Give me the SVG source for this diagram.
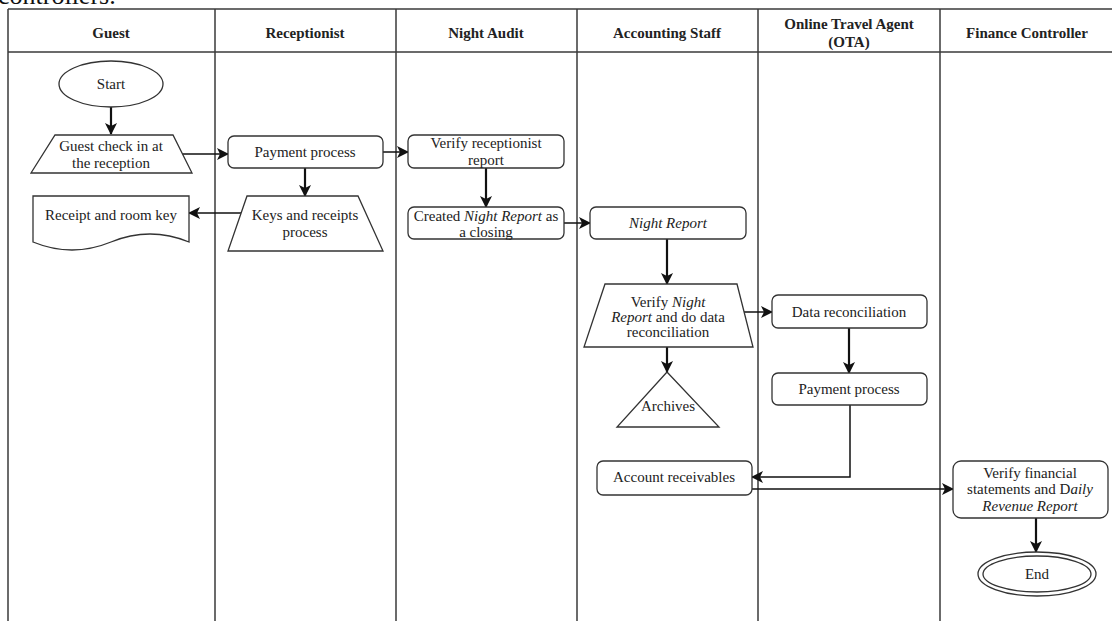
<svg xmlns="http://www.w3.org/2000/svg" width="1112" height="621" viewBox="0 0 1112 621">
<style>
text{font-family:"Liberation Serif","Times New Roman",serif;font-size:15px;fill:#222;text-anchor:middle}
.h{font-weight:bold}
.i{font-style:italic}
.lane{stroke:#3a3a3a;stroke-width:1.5;fill:none}
.n{fill:#fff;stroke:#333;stroke-width:1.3}
.c{stroke:#111;fill:none}
.t{stroke-width:1.5}
.k{stroke-width:2.2}
</style>
<defs>
<marker id="a" markerUnits="userSpaceOnUse" markerWidth="12" markerHeight="12" viewBox="0 0 12 12" refX="11" refY="6" orient="auto">
<path d="M0,0 L12,6 L0,12 L3,6 Z" fill="#111"/>
</marker>
</defs>
<rect width="1112" height="621" fill="#fff"/>
<text x="-2" y="4" style="font-size:26px;text-anchor:start;fill:#111">controllers.</text>
<g id="lanes">
<line class="lane" x1="8" y1="9" x2="1112" y2="9"/>
<line class="lane" x1="8" y1="52" x2="1112" y2="52"/>
<line class="lane" x1="8" y1="9" x2="8" y2="621"/>
<line class="lane" x1="215" y1="9" x2="215" y2="621"/>
<line class="lane" x1="396" y1="9" x2="396" y2="621"/>
<line class="lane" x1="577" y1="9" x2="577" y2="621"/>
<line class="lane" x1="758" y1="9" x2="758" y2="621"/>
<line class="lane" x1="940" y1="9" x2="940" y2="621"/>
<text class="h" x="111" y="38">Guest</text>
<text class="h" x="305" y="38">Receptionist</text>
<text class="h" x="486" y="38">Night Audit</text>
<text class="h" x="667" y="38">Accounting Staff</text>
<text class="h" x="849" y="29">Online Travel Agent</text>
<text class="h" x="849" y="47">(OTA)</text>
<text class="h" x="1027" y="38">Finance Controller</text>
</g>
<g id="connectors">
<line class="c k" x1="111" y1="106" x2="111" y2="134" marker-end="url(#a)"/>
<line class="c t" x1="182" y1="154" x2="228" y2="154" marker-end="url(#a)"/>
<line class="c k" x1="305" y1="168" x2="305" y2="196" marker-end="url(#a)"/>
<line class="c t" x1="247" y1="213" x2="189" y2="213" marker-end="url(#a)"/>
<line class="c t" x1="383" y1="152" x2="408" y2="152" marker-end="url(#a)"/>
<line class="c k" x1="486" y1="168" x2="486" y2="207" marker-end="url(#a)"/>
<line class="c t" x1="564" y1="223" x2="590" y2="223" marker-end="url(#a)"/>
<line class="c k" x1="667" y1="239" x2="667" y2="284" marker-end="url(#a)"/>
<line class="c t" x1="740" y1="312" x2="772" y2="312" marker-end="url(#a)"/>
<line class="c k" x1="667" y1="347" x2="667" y2="372" marker-end="url(#a)"/>
<line class="c k" x1="849" y1="328" x2="849" y2="373" marker-end="url(#a)"/>
<polyline class="c t" points="850,405 850,477 752,477" marker-end="url(#a)"/>
<line class="c t" x1="752" y1="489" x2="953" y2="489" marker-end="url(#a)"/>
<line class="c k" x1="1036" y1="518" x2="1036" y2="552" marker-end="url(#a)"/>
</g>
<g id="start">
<ellipse class="n" cx="111" cy="84" rx="52" ry="23"/>
<text x="111" y="89">Start</text>
</g>
<g id="guest-checkin">
<polygon class="n" points="55,135 173,135 192,173 31,173"/>
<text x="111" y="151">Guest check in at</text>
<text x="111" y="168">the reception</text>
</g>
<g id="receipt">
<path class="n" d="M33,196 H189 V242 Q150,226 111,242 Q72,258 33,242 Z"/>
<text x="111" y="220">Receipt and room key</text>
</g>
<g id="payment1">
<rect class="n" x="228" y="136" width="155" height="32" rx="6"/>
<text x="305" y="157">Payment process</text>
</g>
<g id="keys">
<polygon class="n" points="247,196 358,196 383,251 228,251"/>
<text x="305" y="220">Keys and receipts</text>
<text x="305" y="237">process</text>
</g>
<g id="verify-recep">
<rect class="n" x="408" y="135" width="156" height="33" rx="6"/>
<text x="486" y="148">Verify receptionist</text>
<text x="486" y="165">report</text>
</g>
<g id="created-night">
<rect class="n" x="408" y="207" width="156" height="32" rx="6"/>
<text x="486" y="221">Created <tspan class="i">Night Report</tspan> as</text>
<text x="486" y="237">a closing</text>
</g>
<g id="night-report">
<rect class="n" x="590" y="207" width="156" height="32" rx="6"/>
<text class="i" x="668" y="228">Night Report</text>
</g>
<g id="verify-night">
<polygon class="n" points="605,284 737,284 753,347 584,347"/>
<text x="668" y="307">Verify <tspan class="i">Night</tspan></text>
<text x="668" y="322"><tspan class="i">Report</tspan> and do data</text>
<text x="668" y="337">reconciliation</text>
</g>
<g id="archives">
<polygon class="n" points="667,372 719,427 617,427"/>
<text x="668" y="411">Archives</text>
</g>
<g id="data-recon">
<rect class="n" x="772" y="295" width="155" height="33" rx="6"/>
<text x="849" y="317">Data reconciliation</text>
</g>
<g id="payment2">
<rect class="n" x="772" y="373" width="155" height="32" rx="6"/>
<text x="849" y="394">Payment process</text>
</g>
<g id="account-rec">
<rect class="n" x="597" y="461" width="155" height="34" rx="6"/>
<text x="674" y="482">Account receivables</text>
</g>
<g id="verify-fin">
<rect class="n" x="953" y="461" width="155" height="57" rx="8"/>
<text x="1030" y="478">Verify financial</text>
<text x="1030" y="494">statements and D<tspan class="i">aily</tspan></text>
<text class="i" x="1030" y="511">Revenue Report</text>
</g>
<g id="end">
<ellipse class="n" cx="1037" cy="574" rx="59" ry="22"/>
<ellipse class="n" cx="1037" cy="574" rx="54" ry="18"/>
<text x="1037" y="579">End</text>
</g>
</svg>
